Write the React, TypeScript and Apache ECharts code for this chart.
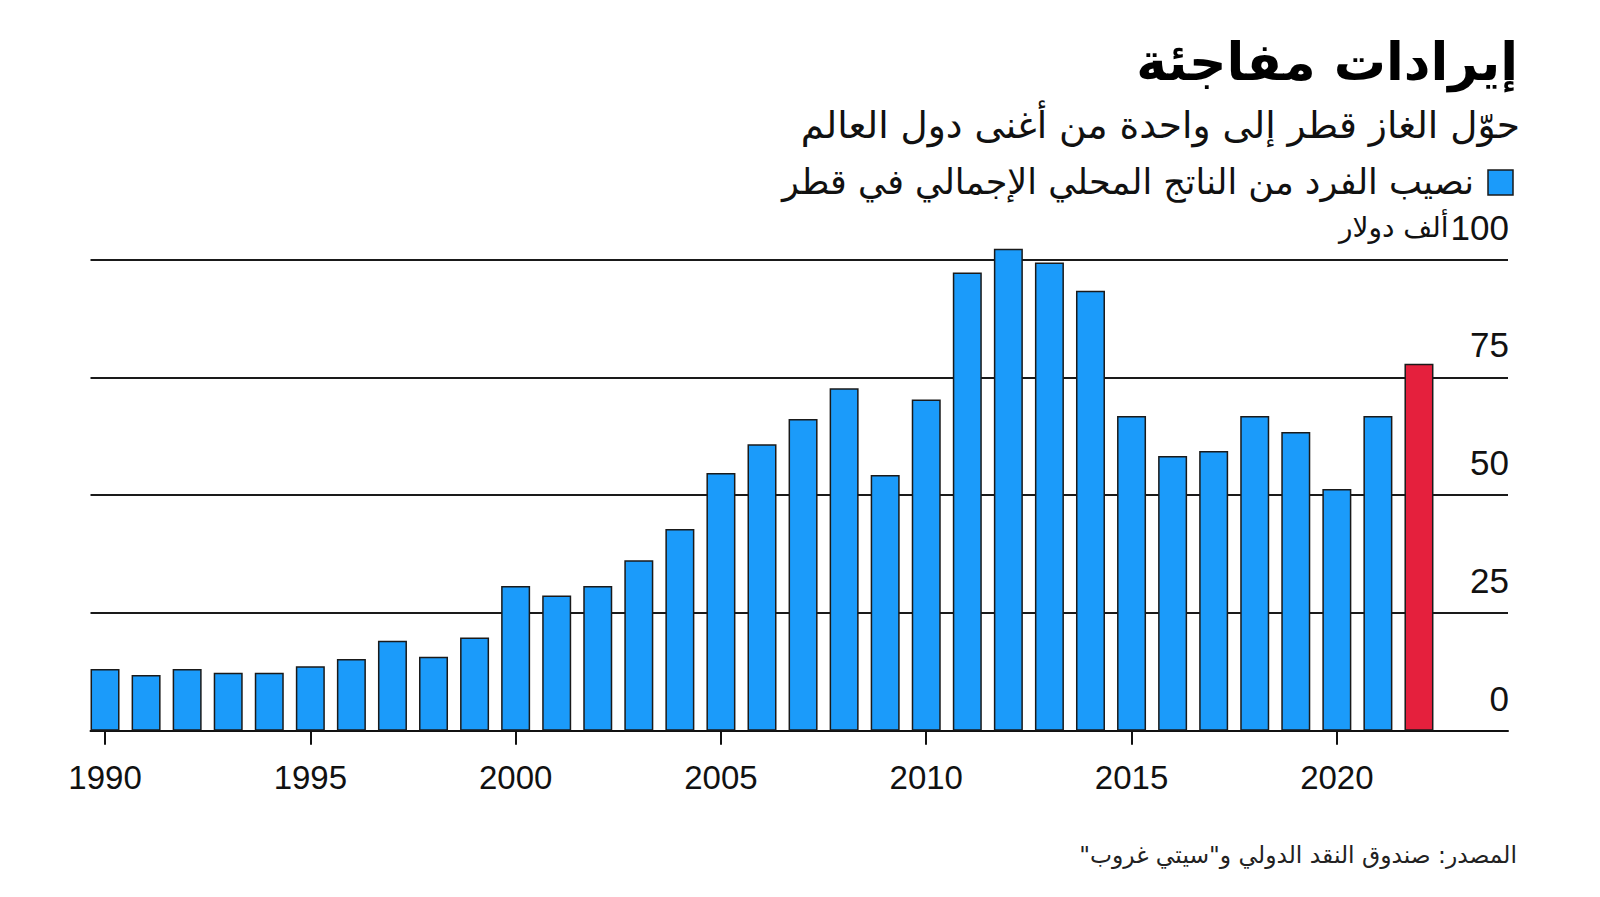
import React, { useEffect, useRef } from "react";
import * as echarts from "echarts";

const years: string[] = [
  "1990", "1991", "1992", "1993", "1994", "1995", "1996", "1997", "1998", "1999",
  "2000", "2001", "2002", "2003", "2004", "2005", "2006", "2007", "2008", "2009",
  "2010", "2011", "2012", "2013", "2014", "2015", "2016", "2017", "2018", "2019",
  "2020", "2021", "2022",
];

const gdpPerCapita: number[] = [
  13.1, 11.8, 13.1, 12.3, 12.3, 13.7, 15.2, 19.1, 15.7, 19.8,
  30.7, 28.7, 30.7, 36.2, 42.8, 54.7, 60.8, 66.2, 72.7, 54.3,
  70.3, 97.3, 102.3, 99.4, 93.4, 66.8, 58.3, 59.4, 66.8, 63.4,
  51.3, 66.8, 77.9,
];

const highlightYear = "2022";

const title = "إيرادات مفاجئة";
const subtitle = "حوّل الغاز قطر إلى واحدة من أغنى دول العالم";
const legendLabel = "نصيب الفرد من الناتج المحلي الإجمالي في قطر";
const unitLabel = "ألف دولار";
const sourceText = "المصدر: صندوق النقد الدولي و\"سيتي غروب\"\u200F";

const BLUE = "#1b9bfa";
const RED = "#e5203d";
const AR_FONT = '"DejaVu Sans", sans-serif';
const NUM_FONT = '"Liberation Sans", Arial, sans-serif';

export default function App() {
  const ref = useRef<HTMLDivElement>(null);

  useEffect(() => {
    if (!ref.current) return;
    const chart = echarts.init(ref.current, null, { renderer: "svg" });

    const barData = gdpPerCapita.map((v, i) => ({
      value: v,
      itemStyle: { color: years[i] === highlightYear ? RED : BLUE },
    }));

    const baseY = 730.7;
    const pxPerUnit = 4.71;

    chart.setOption({
      animation: false,
      backgroundColor: "#ffffff",
      grid: [
        {
          left: 84.5,
          width: 1355,
          top: baseY - 110 * pxPerUnit,
          height: 110 * pxPerUnit,
          containLabel: false,
        },
        {
          left: 90.5,
          width: 1417.5,
          top: baseY - 100 * pxPerUnit,
          height: 100 * pxPerUnit,
          containLabel: false,
        },
      ],
      xAxis: [
        {
          type: "category",
          gridIndex: 0,
          data: years,
          boundaryGap: true,
          axisLine: { show: false },
          axisTick: {
            show: true,
            alignWithLabel: true,
            interval: (i: number) => i % 5 === 0,
            length: 14,
            lineStyle: { color: "#111", width: 2 },
          },
          axisLabel: {
            interval: (i: number) => i % 5 === 0,
            fontSize: 33,
            fontFamily: NUM_FONT,
            color: "#111",
            margin: 30,
          },
          splitLine: { show: false },
        },
        {
          type: "value",
          gridIndex: 1,
          min: 0,
          max: 1,
          axisLine: { show: true, onZero: false, lineStyle: { color: "#111", width: 2 } },
          axisTick: { show: false },
          axisLabel: { show: false },
          splitLine: { show: false },
        },
      ],
      yAxis: [
        {
          type: "value",
          gridIndex: 0,
          min: 0,
          max: 110,
          show: false,
          splitLine: { show: false },
        },
        {
          type: "value",
          gridIndex: 1,
          position: "right",
          min: 0,
          max: 100,
          interval: 25,
          axisLine: { show: false },
          axisTick: { show: false },
          splitLine: { show: true, lineStyle: { color: "#1a1a1a", width: 2 } },
          axisLabel: {
            inside: true,
            margin: -1,
            verticalAlign: "bottom",
            padding: [0, 0, 15, 0],
            formatter: (v: number) =>
              v === 100 ? `{u|${unitLabel}}{n|${v}}` : `{n|${v}}`,
            rich: {
              n: { fontSize: 35, fontFamily: NUM_FONT, color: "#111" },
              u: { fontSize: 28, fontFamily: AR_FONT, color: "#111", padding: [0, 2, 0, 0] },
            },
          },
        },
      ],
      series: [
        {
          type: "bar",
          xAxisIndex: 0,
          yAxisIndex: 0,
          data: barData,
          barWidth: 29,
          itemStyle: { borderColor: "#1a1a1a", borderWidth: 1.5 },
          z: 5,
        },
      ],
      graphic: [
        {
          type: "text",
          right: 82,
          top: 36,
          style: {
            text: title,
            font: `bold 52px ${AR_FONT}`,
            fill: "#000",
            textAlign: "right",
          },
        },
        {
          type: "text",
          right: 80,
          top: 106,
          style: {
            text: subtitle,
            font: `37.5px ${AR_FONT}`,
            fill: "#111",
            textAlign: "right",
          },
        },
        {
          type: "rect",
          shape: { x: 1488, y: 170, width: 25, height: 25 },
          style: { fill: BLUE, stroke: "#1a1a1a", lineWidth: 1.5 },
        },
        {
          type: "text",
          right: 126,
          top: 164,
          style: {
            text: legendLabel,
            font: `35px ${AR_FONT}`,
            fill: "#111",
            textAlign: "right",
          },
        },
        {
          type: "text",
          right: 83,
          top: 843,
          style: {
            text: sourceText,
            font: `23.4px ${AR_FONT}`,
            fill: "#222",
            textAlign: "right",
          },
        },
      ],
    });

    return () => chart.dispose();
  }, []);

  return (
    <div
      ref={ref}
      style={{ position: "absolute", left: 0, top: 0, width: 1600, height: 897 }}
    />
  );
}
